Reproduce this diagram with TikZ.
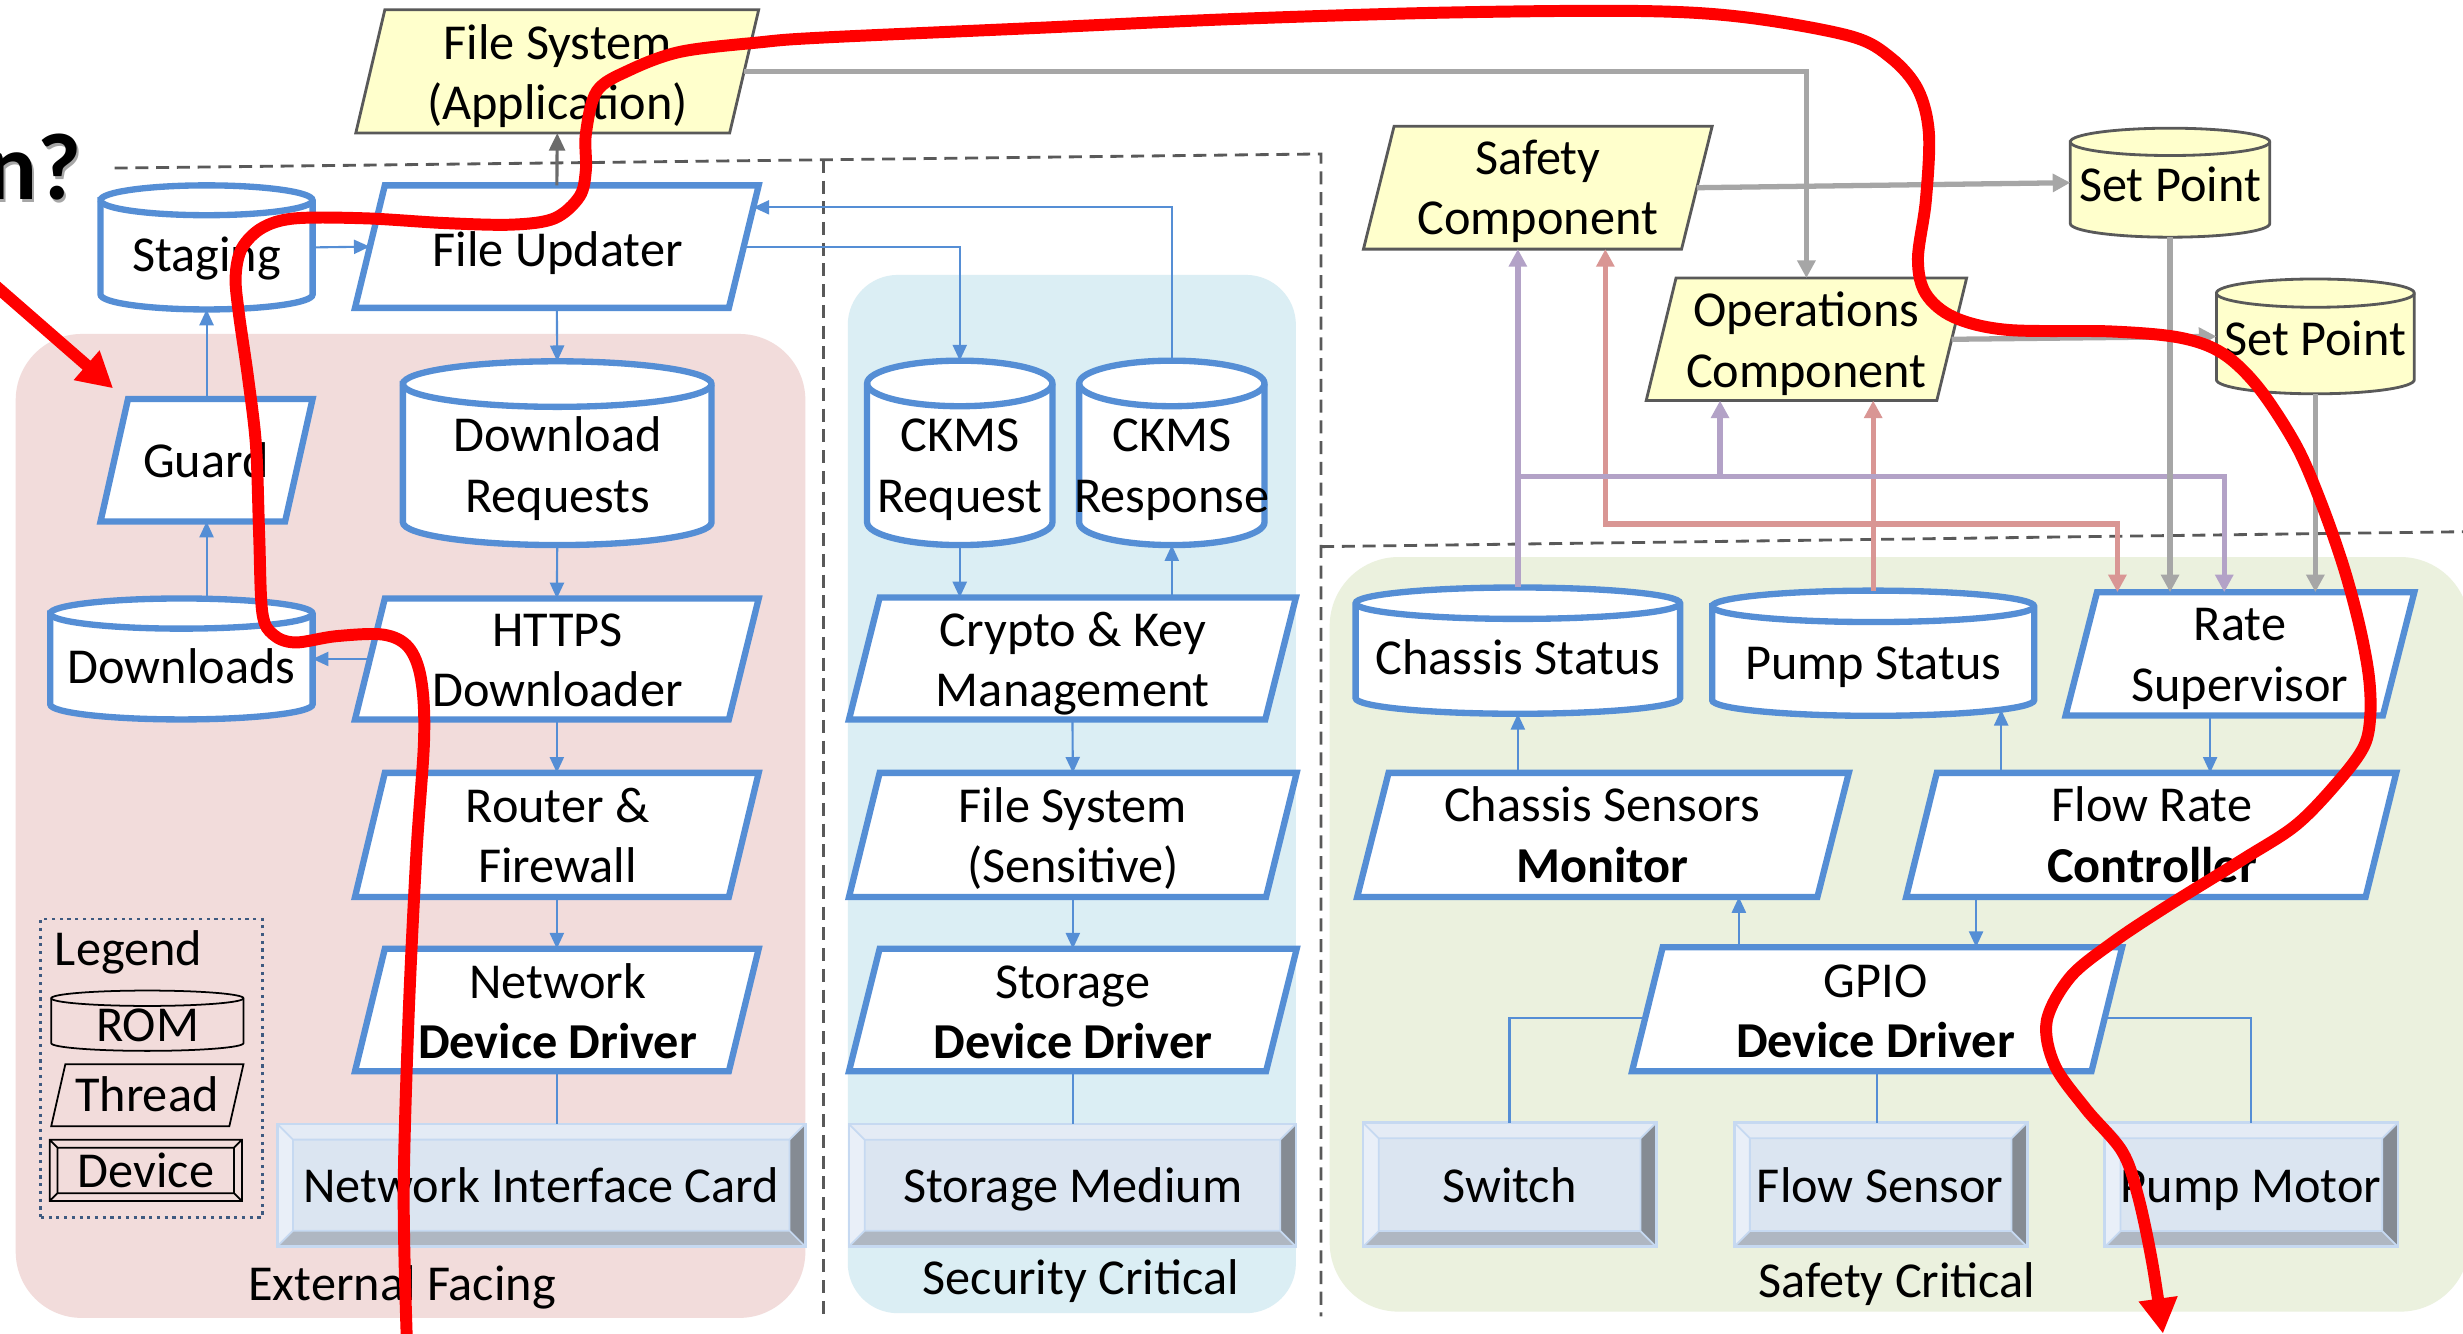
\documentclass[tikz,border=0pt]{standalone}
\usepackage{fontspec}
\setmainfont{Carlito}
\usetikzlibrary{arrows.meta}

\pgfdeclarelayer{regions}
\pgfdeclarelayer{shapes}
\pgfdeclarelayer{front}
\pgfsetlayers{regions,shapes,main,front}

\definecolor{cBlue}{HTML}{558ED5}
\definecolor{cYellow}{HTML}{FFFFCC}
\definecolor{cYEdge}{HTML}{595959}
\definecolor{cPinkReg}{HTML}{F2DCDB}
\definecolor{cBlueReg}{HTML}{DBEEF4}
\definecolor{cGreenReg}{HTML}{EBF1DE}
\definecolor{cGray}{HTML}{A6A6A6}
\definecolor{cDGray}{HTML}{6B6B6B}
\definecolor{cPurple}{HTML}{B3A2C7}
\definecolor{cRose}{HTML}{D99694}
\definecolor{cDash}{HTML}{595959}
\definecolor{cRed}{HTML}{FF0000}
\definecolor{cFace}{HTML}{DBE5F1}
\definecolor{cBevT}{HTML}{E4EBF5}
\definecolor{cBevL}{HTML}{E9EFF8}
\definecolor{cBevB}{HTML}{AFB7C2}
\definecolor{cBevR}{HTML}{858B93}
\definecolor{cEdge}{HTML}{C6D9F1}
\definecolor{cLegend}{HTML}{3E5A80}

% one drawing unit
\def\pxu{0.015708cm}
\newcommand\Px[1]{#1*\pxu}
% a text line whose box runs from the baseline to cap height
\newcommand\capln[1]{\smash{#1}\rule{0pt}{\fontcharht\font`H}}

\tikzset{
  shapebox/.style={rectangle, inner sep=0pt, outer sep=0pt, draw=none},
  txt/.style={inner sep=0pt, outer sep=0pt, align=center, font=\fontsize{14.3}{17.2}\selectfont},
  bthr/.style={draw=cBlue, line width=1.8pt, fill=white},
  ythr/.style={draw=cYEdge, line width=0.8pt, fill=cYellow},
  legsh/.style={draw=black, line width=0.5pt, fill=none},
  bline/.style={draw=cBlue, line width=0.6pt},
  bconn/.style={bline, -{Triangle[length=4.5pt,width=4pt]}},
  aconn/.style={draw=cDGray, line width=0.9pt, -{Triangle[length=5pt,width=4.5pt]}},
  gconn/.style={draw=cGray, line width=1.5pt, -{Triangle[length=5pt,width=5pt]}},
  pconn/.style={draw=cPurple, line width=1.5pt, -{Triangle[length=5pt,width=5pt]}},
  rconn/.style={draw=cRose, line width=1.5pt, -{Triangle[length=5pt,width=5pt]}},
  divider/.style={draw=cDash, line width=0.8pt, dash pattern=on 3.7pt off 2.2pt},
  redpath/.style={draw=cRed, line width=3.4pt, line cap=round, line join=round,
                  -{Triangle[length=10pt,width=10.5pt]}},
}

% thread: name, style, left x (bottom), right x (top), top y, bottom y, skew
\newcommand\Thr[7]{%
  \node[shapebox, minimum width={(#4-#3)*\pxu}, minimum height={(#6-#5)*\pxu}]
    (#1) at ({(#3+#4)/2},{(#5+#6)/2}) {};
  \begin{pgfonlayer}{shapes}
    \draw[#2] ({#3+#7},#5) -- (#4,#5) -- ({#4-#7},#6) -- (#3,#6) -- cycle;
  \end{pgfonlayer}}

% storage can: name, style, left x, right x, top y, bottom y, end radius
\newcommand\Can[7]{%
  \node[shapebox, minimum width={(#4-#3)*\pxu}, minimum height={(#6-#5)*\pxu}]
    (#1) at ({(#3+#4)/2},{(#5+#6)/2}) {};
  \begin{pgfonlayer}{shapes}
    \draw[#2] (#3,{#5+#7}) -- (#3,{#6-#7})
      arc[start angle=180, end angle=0, x radius={(#4-#3)/2}, y radius=#7]
      -- (#4,{#5+#7})
      arc[start angle=0, end angle=-180, x radius={(#4-#3)/2}, y radius=#7] -- cycle;
    \draw[#2, fill=none] (#3,{#5+#7})
      arc[start angle=180, end angle=0, x radius={(#4-#3)/2}, y radius=#7];
  \end{pgfonlayer}}

% bevelled device: name, left x, right x, top y, bottom y
\newcommand\Dev[5]{%
  \node[shapebox, minimum width={(#3-#2)*\pxu}, minimum height={(#5-#4)*\pxu}]
    (#1) at ({(#2+#3)/2},{(#4+#5)/2}) {};
  \begin{pgfonlayer}{shapes}
    \fill[cFace] (#2,#4) rectangle (#3,#5);
    \fill[cBevT] (#2,#4) -- (#3,#4) -- ({#3-10},{#4+10}) -- ({#2+10},{#4+10}) -- cycle;
    \fill[cBevL] (#2,#4) -- ({#2+10},{#4+10}) -- ({#2+10},{#5-10}) -- (#2,#5) -- cycle;
    \fill[cBevB] (#2,#5) -- ({#2+10},{#5-10}) -- ({#3-10},{#5-10}) -- (#3,#5) -- cycle;
    \fill[cBevR] (#3,#4) -- ({#3-10},{#4+10}) -- ({#3-10},{#5-10}) -- (#3,#5) -- cycle;
    \draw[cEdge, line width=0.8pt] (#2,#4) rectangle (#3,#5);
    \draw[cEdge, line width=0.5pt] ({#2+10},{#4+10}) rectangle ({#3-10},{#5-10})
      (#2,#4) -- ({#2+10},{#4+10}) (#3,#4) -- ({#3-10},{#4+10})
      (#2,#5) -- ({#2+10},{#5-10}) (#3,#5) -- ({#3-10},{#5-10});
  \end{pgfonlayer}}

\begin{document}
\begin{tikzpicture}[x=0.015708cm, y=-0.015708cm]
\useasboundingbox (0,0) rectangle (1568,849);

% ---------- background zones ----------
\begin{pgfonlayer}{regions}
  \fill[white] (0,0) rectangle (1568,849);
  \fill[cPinkReg, rounded corners=0.66cm] (10,212.6) rectangle (512.7,839);
  \fill[cBlueReg, rounded corners=0.5cm] (539.7,175) rectangle (825,836);
  \fill[cGreenReg, rounded corners=0.69cm] (846.5,354.6) rectangle (1572,835);
\end{pgfonlayer}

% ---------- partition lines ----------
\draw[divider] (73,107) -- (841,98) -- (841,838);
\draw[divider] (524,101.7) -- (524,838);
\draw[divider] (841,348) -- (1568,338.5);

% ---------- heading fragment ----------
\node[font=\fontsize{27}{30}\selectfont\bfseries, text=black!35, anchor=base east,
      inner sep=0pt] (headshadow) at (53.8,129.1) {n?};
\node[font=\fontsize{27}{30}\selectfont\bfseries, anchor=base east, inner sep=0pt]
      (head) at (52,127.3) {n?};

% ---------- application level ----------
\Thr{fsapp}{ythr}{226.5}{483}{6.2}{84.7}{18.5}
\Thr{safe}{ythr}{868}{1090}{80.4}{158.6}{19.5}
\Thr{ops}{ythr}{1048}{1252}{177}{255}{19}
\Can{sp1}{ythr}{1318}{1445}{81.6}{151}{8.7}
\Can{sp2}{ythr}{1411}{1537}{177.6}{250.7}{9}

% ---------- external facing ----------
\Thr{fu}{bthr}{226}{483}{118}{196}{19}
\Can{staging}{bthr}{64}{199}{118}{197}{9.5}
\Thr{guard}{bthr}{64}{199}{254}{332}{17.5}
\Can{downloads}{bthr}{32}{199}{381}{458}{9.6}
\Can{dreq}{bthr}{256.5}{453}{230}{347}{14.5}
\Thr{https}{bthr}{226}{483}{381}{458}{19}
\Thr{router}{bthr}{226}{483}{492}{571}{19}
\Thr{netdd}{bthr}{226}{483}{604}{682}{19}
\Dev{nic}{176.5}{512.6}{715.5}{793.5}

% ---------- security critical ----------
\Can{ckreq}{bthr}{552}{670}{229.6}{347}{14.5}
\Can{ckresp}{bthr}{687}{805}{229.6}{347}{14.5}
\Thr{crypto}{bthr}{540.5}{825}{380.4}{458}{19.5}
\Thr{fssens}{bthr}{540.5}{825.5}{492}{571}{19.5}
\Thr{stdd}{bthr}{540.5}{825.5}{604}{682}{19.5}
\Dev{stmed}{540.5}{825}{715.6}{793.5}

% ---------- safety critical ----------
\Can{cstat}{bthr}{863}{1069.6}{374}{454.4}{10}
\Can{pstat}{bthr}{1090}{1295}{376}{455.7}{10}
\Thr{rate}{bthr}{1315}{1537}{377}{455.5}{20}
\Thr{csm}{bthr}{864}{1177}{492}{571}{20}
\Thr{frc}{bthr}{1213.5}{1525.5}{492}{571}{19.5}
\Thr{gpio}{bthr}{1039}{1351}{603}{682}{19.5}
\Dev{switch}{867.7}{1054.3}{714.7}{793.7}
\Dev{fsens}{1104}{1290.5}{714.7}{793.7}
\Dev{pmotor}{1340}{1526.6}{714.7}{793.7}

% ---------- legend ----------
\node[shapebox, draw=cLegend, line width=0.8pt, dash pattern=on 0.9pt off 1.3pt,
      minimum width=\Px{141}, minimum height=\Px{190}] (legend) at (96.5,680) {};
\Can{legrom}{legsh}{32.6}{155}{630.6}{669}{4.9}
\Thr{legthr}{legsh}{32.6}{155}{677.5}{717}{9}
\node[shapebox, minimum width=\Px{122.4}, minimum height=\Px{39}] (legdev) at (92.8,745.1) {};
\draw[legsh] (31.6,725.6) rectangle (154,764.6) (36.6,730.6) rectangle (149,759.6)
  (31.6,725.6) -- (36.6,730.6) (154,725.6) -- (149,730.6)
  (31.6,764.6) -- (36.6,759.6) (154,764.6) -- (149,759.6);

% ---------- texts ----------
\node[txt] (fsapp-t) at (355,46.6) {\capln{File System}\\\capln{(Application)}};
\node[txt] (safe-t) at (979,120) {\capln{Safety}\\\capln{Component}};
\node[txt] (ops-t) at (1150,217) {\capln{Operations}\\\capln{Component}};
\node[txt] (sp1-t) at (1381.5,118) {\capln{Set Point}};
\node[txt] (sp2-t) at (1474,216) {\capln{Set Point}};
\node[txt] (fu-t) at (355,159.5) {\capln{File Updater}};
\node[txt] (staging-t) at (131.5,162.4) {\capln{Staging}};
\node[txt] (guard-t) at (131,294) {\capln{Guard}};
\node[txt] (downloads-t) at (115.5,425) {\capln{Downloads}};
\node[txt] (dreq-t) at (355,296.5) {\capln{Download}\\\capln{Requests}};
\node[txt] (https-t) at (355,420.5) {\capln{HTTPS}\\\capln{Downloader}};
\node[txt] (router-t) at (355,532.5) {\capln{Router \&}\\\capln{Firewall}};
\node[txt] (netdd-t) at (355,644.5) {\capln{Network}\\\capln{\textbf{Device Driver}}};
\node[txt] (nic-t) at (344.5,755) {\capln{Network Interface Card}};
\node[txt] (ckreq-t) at (611,296.5) {\capln{CKMS}\\\capln{Request}};
\node[txt] (ckresp-t) at (746,296.5) {\capln{CKMS}\\\capln{Response}};
\node[txt] (crypto-t) at (683,420.5) {\capln{Crypto \& Key}\\\capln{Management}};
\node[txt] (fssens-t) at (683,532.5) {\capln{File System}\\\capln{(Sensitive)}};
\node[txt] (stdd-t) at (683,644.5) {\capln{Storage}\\\capln{\textbf{Device Driver}}};
\node[txt] (stmed-t) at (683,755) {\capln{Storage Medium}};
\node[txt] (cstat-t) at (966.5,419.3) {\capln{Chassis Status}};
\node[txt] (pstat-t) at (1192.5,422) {\capln{Pump Status}};
\node[txt] (rate-t) at (1426,417) {\capln{Rate}\\\capln{Supervisor}};
\node[txt] (csm-t) at (1020,532) {\capln{Chassis Sensors}\\\capln{\textbf{Monitor}}};
\node[txt] (frc-t) at (1370,532) {\capln{Flow Rate}\\\capln{\textbf{Controller}}};
\node[txt] (gpio-t) at (1194,644) {\capln{GPIO}\\\capln{\textbf{Device Driver}}};
\node[txt] (switch-t) at (961,755) {\capln{Switch}};
\node[txt] (fsens-t) at (1197,755) {\capln{Flow Sensor}};
\node[txt] (pmotor-t) at (1433,755) {\capln{Pump Motor}};
\node[txt, anchor=west] (legend-t) at (35,604.5) {\capln{Legend}};
\node[txt] (legrom-t) at (94,653) {\capln{ROM}};
\node[txt] (legthr-t) at (93.5,697.3) {\capln{Thread}};
\node[txt] (legdev-t) at (93,746) {\capln{Device}};
\node[txt] (ext-t) at (256,817.5) {\capln{External Facing}};
\node[txt] (sec-t) at (688,814) {\capln{Security Critical}};
\node[txt] (saf-t) at (1207.6,815.5) {\capln{Safety Critical}};

% ---------- helper points on slanted sides and off-centre ends ----------
\coordinate (fuR132) at ([xshift=\Px{-3.4},yshift=\Px{-14}]fu.north east);
\coordinate (pstatB) at ([xshift=\Px{81.5},yshift=\Px{3.9}]pstat.south);
\coordinate (rateB) at ([xshift=\Px{-19}]rate.south);
\coordinate (frcB) at ([xshift=\Px{-111.5}]frc.south);
\coordinate (gpioT) at ([xshift=\Px{-88}]gpio.north);
\coordinate (gpioL) at ([xshift=\Px{8.4},yshift=\Px{-5.5}]gpio.west);
\coordinate (gpioR) at ([xshift=\Px{-11.1},yshift=\Px{-5.5}]gpio.east);
\coordinate (fsappR) at ([xshift=\Px{-9.25}]fsapp.east);
\coordinate (safeR) at ([xshift=\Px{-9.75}]safe.east);
\coordinate (opsR) at ([xshift=\Px{-9.5}]ops.east);
\coordinate (pj) at (966.3,303.5);
\coordinate (opsP) at ([xshift=\Px{-55}]ops.south);
\coordinate (rateP) at ([xshift=\Px{-10}]rate.north);
\coordinate (rj) at (1192.5,333.5);
\coordinate (safeQ) at ([xshift=\Px{43}]safe.south);
\coordinate (rateQ) at ([xshift=\Px{-78}]rate.north);

% ---------- external facing flows ----------
\draw[bconn] (staging.east) -- ([xshift=\Px{9.4}]fu.west);
\draw[bconn] (guard.north) -- (staging.south);
\draw[bconn] (guard.south |- downloads.north) -- (guard.south);
\draw[bconn] ([xshift=\Px{9.5}]https.west) -- (downloads.east);
\draw[aconn] (fu.north) -- (fsapp.south);
\draw[bconn] (fu.south) -- (dreq.north);
\draw[bconn] (dreq.south) -- (https.north);
\draw[bconn] (https.south) -- (router.north);
\draw[bconn] (router.south) -- (netdd.north);
\draw[bline] (netdd.south) -- (netdd.south |- nic.north);
\draw[bconn] ([xshift=\Px{-9.5}]fu.east) -| (ckreq.north);
\draw[bconn] (ckresp.north) |- (fuR132);

% ---------- security critical flows ----------
\draw[bconn] (ckreq.south) -- (ckreq.south |- crypto.north);
\draw[bconn] (ckresp.south |- crypto.north) -- (ckresp.south);
\draw[bconn] (crypto.south) -- (fssens.north);
\draw[bconn] (fssens.south) -- (stdd.north);
\draw[bline] (stdd.south) -- (stdd.south |- stmed.north);

% ---------- safety critical flows ----------
\draw[bconn] (cstat.south |- csm.north) -- (cstat.south);
\draw[bconn] (pstatB |- frc.north) -- (pstatB);
\draw[bconn] (rateB) -- (rateB |- frc.north);
\draw[bconn] (frcB) -- (frcB |- gpio.north);
\draw[bconn] (gpioT) -- (gpioT |- csm.south);
\draw[bline] (gpioL) -| (switch.north);
\draw[bline] (gpio.south) -- (gpio.south |- fsens.north);
\draw[bline] (gpioR) -| (pmotor.north);

% ---------- status and set point flows ----------
\draw[rconn] (pstat.north) -- (pstat.north |- ops.south);
\draw[rconn] (rj) -| (safeQ);
\draw[rconn] (rj) -| (rateQ);
\draw[pconn] (cstat.north) -- (cstat.north |- safe.south);
\draw[pconn] (pj) -| (opsP);
\draw[pconn] (pj) -| (rateP);
\draw[gconn] (fsappR) -| (ops.north);
\draw[gconn] (safeR) -- (sp1.west);
\draw[gconn] (opsR) -- (sp2.west);
\draw[gconn] (sp1.south) -- (sp1.south |- rate.north);
\draw[gconn] (sp2.south) -- (sp2.south |- rate.north);

% ---------- red annotations ----------
\begin{pgfonlayer}{front}
  \coordinate (redA) at (-3,181.8);
  \coordinate (redB) at (72,247.2);
  \draw[redpath] (redA) -- (redB);
  \draw[redpath] plot[smooth, tension=0.55] coordinates {
    (259,853) (257,760) (260,650) (265,545) (270,470) (268,432) (260,412)
    (244,404) (214,405) (188,409) (174,404) (167,390) (165,341) (163,284)
    (158,241) (152,199) (150,176) (154,158) (167,145) (188,139) (233,139)
    (283,142) (326,143) (353,139) (369,125) (373,108) (373,85) (380,58)
    (400,45) (433,33) (483,27) (522,24) (655,18) (788,12) (921,8) (1044,7)
    (1111,11) (1178,23) (1204,37) (1221,57) (1228,85) (1226,128) (1221,165)
    (1226,187) (1244,202) (1278,210) (1344,211) (1388,215) (1415,225)
    (1438,247) (1462,284) (1478,321) (1492,361) (1502,398) (1508,430)
    (1509,455) (1505,475) (1489,497) (1462,525) (1428,547) (1378,578)
    (1345,600) (1318,622) (1303,650) (1308,678) (1328,706) (1351,733)
    (1361,761) (1370,803) (1377,849)};
\end{pgfonlayer}
\end{tikzpicture}
\end{document}
